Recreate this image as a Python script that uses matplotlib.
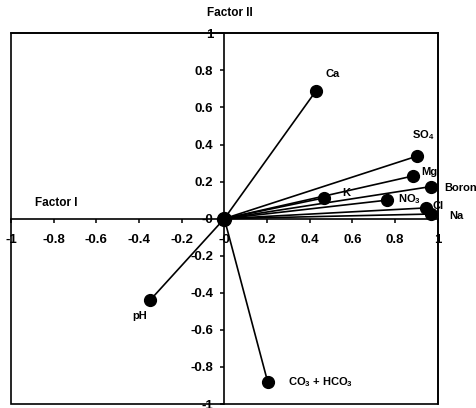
import matplotlib.pyplot as plt
from matplotlib.patches import Rectangle
import numpy as np

plt.rcParams['font.family'] = ['Liberation Sans', 'DejaVu Sans']
plt.rcParams['font.weight'] = 'bold'
plt.rcParams['mathtext.fontset'] = 'custom'
plt.rcParams['mathtext.rm'] = 'Liberation Sans:bold'
plt.rcParams['mathtext.default'] = 'rm'

# loadings
names = ['Ca', 'SO$_4$', 'Mg', 'Boron', 'K', 'NO$_3$', 'Cl', 'Na', 'pH', 'CO$_3$ + HCO$_3$']
factor1 = [0.43, 0.905, 0.883, 0.968, 0.467, 0.764, 0.946, 0.97, -0.348, 0.203]
factor2 = [0.69, 0.338, 0.23, 0.173, 0.112, 0.10, 0.058, 0.025, -0.44, -0.88]
# label offsets (pixels)
offsets = [(9, 17), (-5, 21), (9, 4), (13, -1), (18, 5), (11, 1), (6, 2), (18, -2), (-18, -16), (20, 0)]
ticks = np.round(np.arange(-1, 1.01, 0.2), 1)

fig = plt.figure(figsize=(4.77, 4.08), dpi=100)
ax = fig.add_axes([0.023, 0.0098, 0.8946, 0.9086])

for x, y in zip(factor1, factor2):
    ax.plot([0, x], [0, y], color='black', lw=1.2, zorder=2)
ax.plot(factor1, factor2, 'o', color='black', ms=8.5, zorder=3, clip_on=False)
ax.plot([0], [0], 'o', color='black', ms=10, zorder=3)

for n, x, y, (dx, dy) in zip(names, factor1, factor2, offsets):
    ax.annotate(n, (x, y), xytext=(dx * 0.72, dy * 0.72), textcoords='offset points',
                ha='left', va='center', fontsize=8, fontweight='bold', annotation_clip=False)

ax.set_xlim(-1, 1)
ax.set_ylim(-1, 1)
ax.spines['left'].set_position(('data', 0))
ax.spines['bottom'].set_position(('data', 0))
for s in ax.spines.values():
    s.set_linewidth(1.2)
ax.add_patch(Rectangle((0, 0), 1, 1, transform=ax.transAxes, fill=False,
                       lw=1.2, edgecolor='black', clip_on=False, zorder=1))

ax.set_xticks(ticks)
ax.set_yticks(ticks)
ax.set_xticklabels([f'{t:g}' for t in ticks])
ax.set_yticklabels([f'{t:g}' for t in ticks])
ax.tick_params(axis='x', direction='out', length=3, width=1.1, pad=8, labelsize=9.5)
ax.tick_params(axis='y', direction='out', length=3, width=1.1, pad=5, labelsize=9.5)
for lab in ax.get_xticklabels() + ax.get_yticklabels():
    lab.set_fontweight('bold')

ax.text(230 / 477, 1 - 13 / 408, 'Factor II', transform=fig.transFigure,
        ha='center', va='center', fontsize=8.5, fontweight='bold')
ax.text(35 / 477, 1 - 203 / 408, 'Factor I', transform=fig.transFigure,
        ha='left', va='center', fontsize=8.5, fontweight='bold')

fig.savefig('out.png', dpi=100)
